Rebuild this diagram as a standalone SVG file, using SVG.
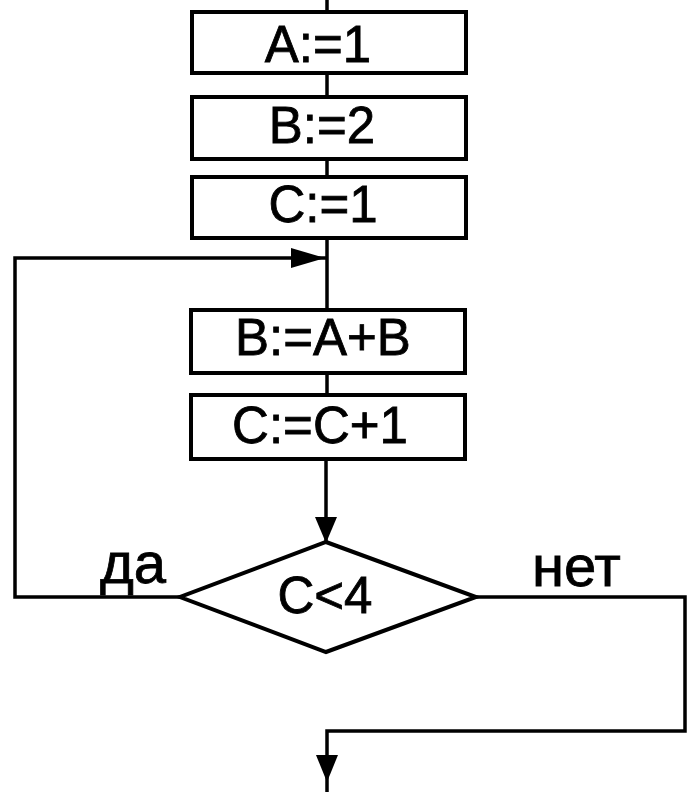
<svg xmlns="http://www.w3.org/2000/svg" width="687" height="792" viewBox="0 0 687 792">
<style>
.box{fill:#fff;stroke:#000;stroke-width:4}
.t{font-family:"Liberation Sans",Arial,sans-serif;font-size:51px;fill:#000;stroke:#000;stroke-width:0.8;text-anchor:middle}
.lbl{font-family:"Liberation Sans",Arial,sans-serif;font-size:58px;fill:#000;stroke:#000;stroke-width:0.8}
.ln{fill:none;stroke:#000;stroke-width:3.5}
</style>
<rect width="687" height="792" fill="#fff"/>
<g id="connectors">
<path class="ln" d="M327,0 V12"/>
<path class="ln" d="M327,73 V97"/>
<path class="ln" d="M327,159 V177"/>
<path class="ln" d="M327,238 V310"/>
<path class="ln" d="M327,373 V395"/>
<path class="ln" d="M326,459 V541"/>
<path d="M315,517 L337,517 L326,543 Z" fill="#000"/>
<path class="ln" d="M180,597 H15 V258 H326"/>
<path d="M291,248 L325,258 L291,268 Z" fill="#000"/>
<path class="ln" d="M476,597 H685 V731 H327 V792"/>
<path d="M316,755 L338,755 L327,782 Z" fill="#000"/>
</g>
<g id="n1"><rect class="box" x="192" y="12" width="274" height="61"/><text class="t" x="318" y="62">A:=1</text></g>
<g id="n2"><rect class="box" x="192" y="97" width="274" height="62"/><text class="t" x="322" y="143">B:=2</text></g>
<g id="n3"><rect class="box" x="192" y="177" width="274" height="61"/><text class="t" x="323" y="222">C:=1</text></g>
<g id="n4"><rect class="box" x="191" y="310" width="274" height="63"/><text class="t" x="323" y="355">B:=A+B</text></g>
<g id="n5"><rect class="box" x="191" y="395" width="274" height="64"/><text class="t" x="320" y="443">C:=C+1</text></g>
<g id="n6"><path class="box" d="M326,542 L476,597 L326,652 L180,597 Z"/><text class="t" x="325" y="613">C&lt;4</text></g>
<text class="lbl" x="100" y="583">да</text>
<text class="lbl" x="532" y="586">нет</text>
</svg>
